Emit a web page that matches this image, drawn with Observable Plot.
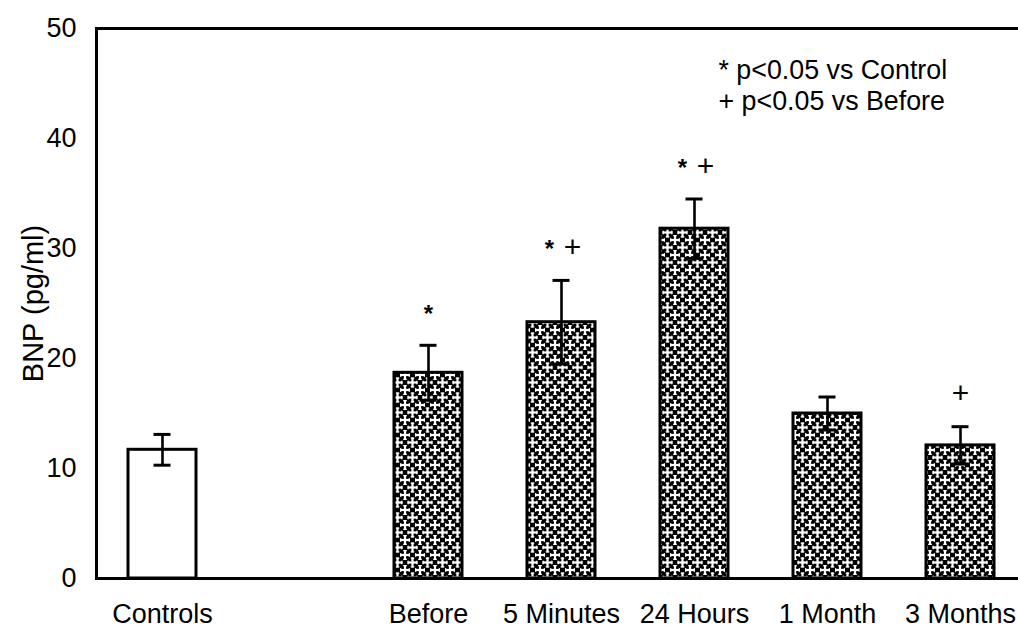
<!DOCTYPE html>
<html>
<head>
<meta charset="utf-8">
<script src="https://cdn.jsdelivr.net/npm/d3@7"></script>
<script src="https://cdn.jsdelivr.net/npm/@observablehq/plot@0.6"></script>
<style>
  html, body { margin: 0; padding: 0; background: #fff; }
  svg { display: block; }
</style>
</head>
<body>
<div id="chart"></div>
<script>
// BNP by time point, mean ± SEM
const groups = ["Controls", "Before", "5 Minutes", "24 Hours", "1 Month", "3 Months"];
const means = [11.7, 18.7, 23.3, 31.8, 15.0, 12.1];
const sems = [1.4, 2.5, 3.8, 2.7, 1.5, 1.7];
const vsControl = [false, true, true, true, false, false];
const vsBefore = [false, false, true, true, false, true];
const yTicks = [0, 10, 20, 30, 40, 50];
const legendLines = ["* p<0.05 vs Control", "+ p<0.05 vs Before"];

// the x domain keeps an empty slot between the controls and the patient series
const xDomain = [groups[0], " ", ...groups.slice(1)];

const rows = groups.map((g, i) => ({
  group: g, mean: means[i],
  lo: means[i] - sems[i], hi: means[i] + sems[i],
  star: vsControl[i], plus: vsBefore[i]
}));

const FONT = "'Liberation Sans', Arial, Helvetica, sans-serif";

// markers: a lone symbol sits centred, a "* +" pair is split either side
const starsPaired = rows.filter(d => d.star && d.plus);
const starsSingle = rows.filter(d => d.star && !d.plus);
const plusPaired = rows.filter(d => d.plus && d.star);
const plusSingle = rows.filter(d => d.plus && !d.star);

const starStyle = { x: "group", y: "hi", text: () => "*", fontSize: 24, fontWeight: "bold", lineAnchor: "middle", dy: -31 };
const plusStyle = { x: "group", y: "hi", text: () => "+", fontSize: 30, lineAnchor: "middle", dy: -33 };

const chart = Plot.plot({
  width: 1018,
  height: 630,
  marginLeft: 96,
  marginRight: 0,
  marginTop: 28,
  marginBottom: 52,
  style: { fontFamily: FONT, color: "#000", background: "#fff", overflow: "visible" },
  x: { domain: xDomain, range: [95, 1026], paddingInner: 0.49, paddingOuter: 0.245 },
  y: { domain: [0, 50] },
  marks: [
    Plot.axisY({ ticks: yTicks, tickSize: 0, tickPadding: 20, fontSize: 27, label: null }),
    Plot.axisX({ ticks: groups, tickSize: 0, tickPadding: 25, fontSize: 27, label: null }),
    Plot.text(["BNP (pg/ml)"], { frameAnchor: "left", dx: -63, rotate: -90, fontSize: 29, textAnchor: "middle" }),
    Plot.barY(rows.filter(d => d.group === "Controls"),
      { x: "group", y: "mean", fill: "white", stroke: "black", strokeWidth: 3 }),
    Plot.barY(rows.filter(d => d.group !== "Controls"),
      { x: "group", y: "mean", fill: "url(#bnp-hatch)", stroke: "black", strokeWidth: 3 }),
    Plot.ruleX(rows, { x: "group", y1: "lo", y2: "hi", stroke: "black", strokeWidth: 2.6 }),
    Plot.tickY(rows, { x: "group", y: "hi", stroke: "black", strokeWidth: 3, insetLeft: 25.5, insetRight: 25.5 }),
    Plot.tickY(rows, { x: "group", y: "lo", stroke: "black", strokeWidth: 3, insetLeft: 25.5, insetRight: 25.5 }),
    Plot.text(starsSingle, { ...starStyle }),
    Plot.text(starsPaired, { ...starStyle, dx: -12 }),
    Plot.text(plusSingle, { ...plusStyle }),
    Plot.text(plusPaired, { ...plusStyle, dx: 11 }),
    Plot.ruleY([0], { stroke: "black", strokeWidth: 3 }),
    Plot.frame({ anchor: "left", stroke: "black", strokeWidth: 3 }),
    Plot.frame({ anchor: "top", stroke: "black", strokeWidth: 3 }),
    Plot.text([legendLines[0]], { frameAnchor: "top-left", dx: 622, dy: 42, fontSize: 26.8, textAnchor: "start", lineAnchor: "middle" }),
    Plot.text([legendLines[1]], { frameAnchor: "top-left", dx: 622, dy: 73, fontSize: 26.8, textAnchor: "start", lineAnchor: "middle" })
  ]
});

// cross-hatch fill: white crosses on black in an offset lattice
const svg = d3.select(chart);
const defs = svg.insert("defs", ":first-child");
const T = 15;
const pat = defs.append("pattern")
  .attr("id", "bnp-hatch")
  .attr("patternUnits", "userSpaceOnUse")
  .attr("width", T).attr("height", T);
pat.append("rect").attr("width", T).attr("height", T).attr("fill", "black");
function cross(cx, cy) {
  const arm = 5, w = 2.2, cap = 3.6, cw = 1.3;
  const r = (x, y, wd, ht) => pat.append("rect").attr("x", x).attr("y", y).attr("width", wd).attr("height", ht).attr("fill", "white");
  r(cx - arm, cy - w / 2, 2 * arm, w);
  r(cx - w / 2, cy - arm, w, 2 * arm);
  // short bars across the arm ends
  r(cx - arm, cy - cap / 2, cw, cap);
  r(cx + arm - cw, cy - cap / 2, cw, cap);
  r(cx - cap / 2, cy - arm, cap, cw);
  r(cx - cap / 2, cy + arm - cw, cap, cw);
}
cross(T / 2, T / 2);
for (const [cx, cy] of [[0, 0], [T, 0], [0, T], [T, T]]) cross(cx, cy);

document.getElementById("chart").appendChild(chart);
</script>
</body>
</html>
